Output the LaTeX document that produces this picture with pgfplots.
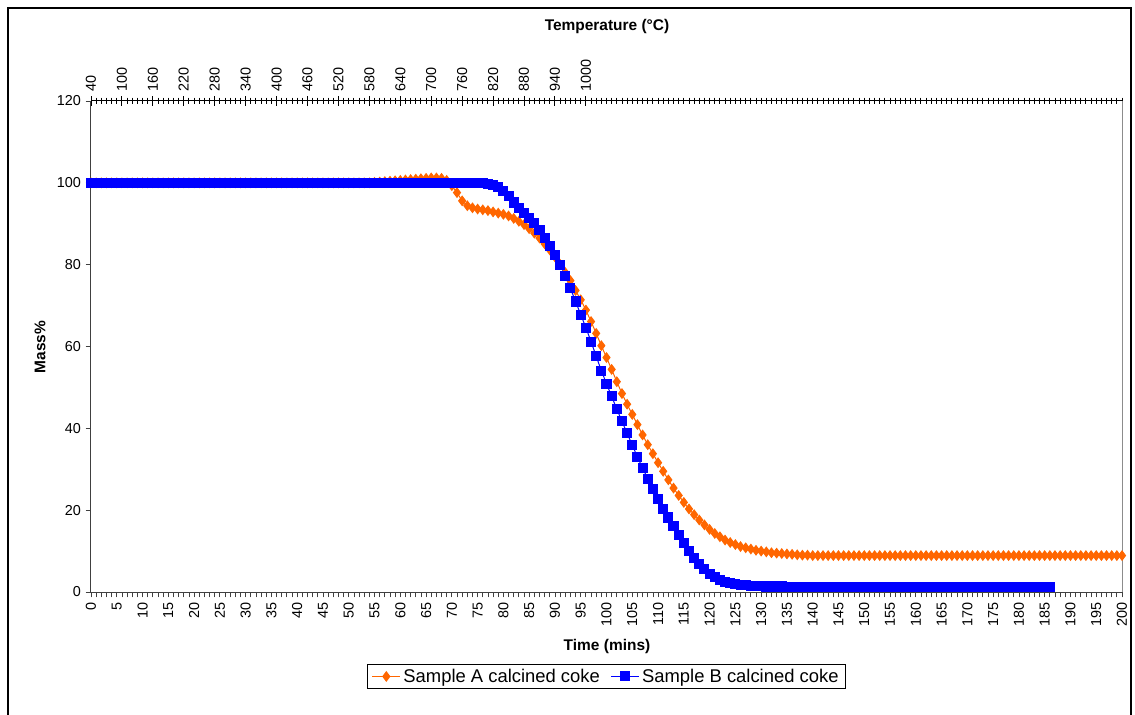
\documentclass[border=0pt]{standalone}
\usepackage{fontspec}
\setmainfont{Liberation Sans}
\usepackage{pgfplots}
\pgfplotsset{compat=1.18}
\definecolor{cA}{HTML}{FF6600}
\definecolor{cB}{HTML}{0000FF}
\begin{document}
\begin{tikzpicture}
\useasboundingbox (0,0) rectangle (851.25pt,535.5pt);
\draw[black, line width=1pt] (6pt,-20pt) -- (6pt,529.5pt) -- (848.25pt,529.5pt) -- (848.25pt,-20pt);
% top (temperature) axis
\begin{axis}[
  at={(68.25pt,91.5pt)}, anchor=south west,
  scale only axis, width=773.25pt, height=368.25pt,
  xmin=0, xmax=200, ymin=0, ymax=1,
  axis x line*=top, axis y line=none,
  axis line style={black, line width=0.75pt},
  xtick={0,6,...,96},
  xticklabels={40,100,160,220,280,340,400,460,520,580,640,700,760,820,880,940,1000},
  minor xtick={0,1,...,200},
  tick align=center,
  major tick length=7pt, minor tick length=5pt,
  tick style={black, line width=0.7pt},
  xticklabel style={rotate=90, anchor=west, font=\fontsize{10.8}{12}\selectfont},
  /pgf/number format/assume math mode=true,
]
\addplot[draw=none] coordinates {(0,0)};
\end{axis}
% main axis
\begin{axis}[
  at={(68.25pt,91.5pt)}, anchor=south west,
  scale only axis, width=773.25pt, height=368.25pt,
  xmin=0, xmax=200, ymin=0, ymax=120,
  axis x line*=bottom, axis y line*=left,
  axis line style={black!75, line width=0.75pt},
  xtick distance=5, minor x tick num=4,
  ytick={0,20,...,120},
  tick align=outside,
  major tick length=4pt, minor tick length=4pt,
  tick style={black!75, line width=0.6pt},
  xticklabel style={rotate=90, anchor=east, font=\fontsize{10.8}{12}\selectfont},
  yticklabel style={font=\fontsize{10.8}{12}\selectfont},
  /pgf/number format/assume math mode=true,
  clip=false,
  legend columns=2,
  legend style={at={(0.5,-0.172)}, anchor=center, draw=black, line width=0.75pt,
    font=\fontsize{13.8}{16}\selectfont, inner xsep=3pt, inner ysep=1.5pt,
    /tikz/every even column/.append style={column sep=6pt}},
  legend image code/.code={\draw[mark repeat=2,mark phase=2] plot coordinates {(0pt,0pt) (10.5pt,0pt) (21pt,0pt)};},
]
\draw[black!45, line width=0.75pt] (rel axis cs:1,0) -- (rel axis cs:1,1);
\addplot[cA, line width=0.75pt, mark=diamond*, mark size=3.5pt, mark options={solid, fill=cA, draw=cA}] coordinates {
(0,100)(1,100)(2,100)(3,100)(4,100)(5,100)(6,100)(7,100)(8,100)(9,100)
(10,100)(11,100)(12,100)(13,100)(14,100)(15,100)(16,100)(17,100)(18,100)(19,100)
(20,100)(21,100)(22,100)(23,100)(24,100)(25,100)(26,100)(27,100)(28,100)(29,100)
(30,100)(31,100)(32,100)(33,100)(34,100)(35,100)(36,100)(37,100)(38,100)(39,100)
(40,100)(41,100)(42,100)(43,100)(44,100)(45,100)(46,100)(47,100)(48,100)(49,100)
(50,100)(51,100)(52,100)(53,100)(54,100)(55,100.1)(56,100.2)(57,100.3)(58,100.4)(59,100.5)
(60,100.6)(61,100.7)(62,100.8)(63,100.9)(64,101.0)(65,101.1)(66,101.2)(67,101.2)(68,101.1)(69,100.6)
(70,99.3)(71,97.6)(72,95.6)(73,94.4)(74,93.9)(75,93.6)(76,93.4)(77,93.2)(78,92.9)(79,92.6)
(80,92.3)(81,91.9)(82,91.3)(83,90.6)(84,89.8)(85,88.8)(86,87.7)(87,86.5)(88,85.1)(89,83.6)
(90,81.9)(91,80.1)(92,78.1)(93,76.1)(94,73.7)(95,71.4)(96,68.9)(97,66.1)(98,63.2)(99,60.2)
(100,57.3)(101,54.4)(102,51.4)(103,48.5)(104,45.9)(105,43.4)(106,40.9)(107,38.4)(108,36.0)(109,33.8)
(110,31.6)(111,29.5)(112,27.4)(113,25.4)(114,23.6)(115,21.9)(116,20.3)(117,18.9)(118,17.6)(119,16.4)
(120,15.3)(121,14.3)(122,13.5)(123,12.7)(124,12.1)(125,11.6)(126,11.1)(127,10.8)(128,10.5)(129,10.2)
(130,10.0)(131,9.8)(132,9.6)(133,9.5)(134,9.4)(135,9.3)(136,9.2)(137,9.1)(138,9.0)(139,9.0)
(140,8.9)(141,8.9)(142,8.9)(143,8.9)(144,8.9)(145,8.9)(146,8.9)(147,8.9)(148,8.9)(149,8.9)
(150,8.9)(151,8.9)(152,8.9)(153,8.9)(154,8.9)(155,8.9)(156,8.9)(157,8.9)(158,8.9)(159,8.9)
(160,8.9)(161,8.9)(162,8.9)(163,8.9)(164,8.9)(165,8.9)(166,8.9)(167,8.9)(168,8.9)(169,8.9)
(170,8.9)(171,8.9)(172,8.9)(173,8.9)(174,8.9)(175,8.9)(176,8.9)(177,8.9)(178,8.9)(179,8.9)
(180,8.9)(181,8.9)(182,8.9)(183,8.9)(184,8.9)(185,8.9)(186,8.9)(187,8.9)(188,8.9)(189,8.9)
(190,8.9)(191,8.9)(192,8.9)(193,8.9)(194,8.9)(195,8.9)(196,8.9)(197,8.9)(198,8.9)(199,8.9)
(200,8.9)
};
\addlegendentry{Sample A calcined coke}
\addplot[cB, line width=0.75pt, mark=square*, mark size=3.4pt, mark options={solid, fill=cB, draw=cB}] coordinates {
(0,100)(1,100)(2,100)(3,100)(4,100)(5,100)(6,100)(7,100)(8,100)(9,100)
(10,100)(11,100)(12,100)(13,100)(14,100)(15,100)(16,100)(17,100)(18,100)(19,100)
(20,100)(21,100)(22,100)(23,100)(24,100)(25,100)(26,100)(27,100)(28,100)(29,100)
(30,100)(31,100)(32,100)(33,100)(34,100)(35,100)(36,100)(37,100)(38,100)(39,100)
(40,100)(41,100)(42,100)(43,100)(44,100)(45,100)(46,100)(47,100)(48,100)(49,100)
(50,100)(51,100)(52,100)(53,100)(54,100)(55,100)(56,100)(57,100)(58,100)(59,100)
(60,100)(61,100)(62,100)(63,100)(64,100)(65,100)(66,100)(67,100)(68,100)(69,100)
(70,100)(71,100)(72,100)(73,100)(74,100)(75,100)(76,99.9)(77,99.7)(78,99.4)(79,98.9)
(80,98.0)(81,96.7)(82,95.2)(83,93.8)(84,92.6)(85,91.4)(86,90.1)(87,88.4)(88,86.5)(89,84.5)
(90,82.4)(91,80.0)(92,77.3)(93,74.2)(94,71.0)(95,67.8)(96,64.6)(97,61.2)(98,57.6)(99,54.1)
(100,50.9)(101,47.8)(102,44.7)(103,41.7)(104,38.8)(105,35.9)(106,33.0)(107,30.3)(108,27.7)(109,25.2)
(110,22.7)(111,20.3)(112,18.2)(113,16.1)(114,14.0)(115,12.0)(116,10.1)(117,8.4)(118,6.9)(119,5.6)
(120,4.5)(121,3.6)(122,2.9)(123,2.4)(124,2.1)(125,1.9)(126,1.7)(127,1.6)(128,1.5)(129,1.4)
(130,1.4)(131,1.35)(132,1.35)(133,1.35)(134,1.35)(135,1.3)(136,1.3)(137,1.3)(138,1.3)(139,1.3)
(140,1.3)(141,1.3)(142,1.3)(143,1.3)(144,1.3)(145,1.3)(146,1.3)(147,1.3)(148,1.3)(149,1.3)
(150,1.3)(151,1.3)(152,1.3)(153,1.3)(154,1.3)(155,1.3)(156,1.3)(157,1.3)(158,1.3)(159,1.3)
(160,1.3)(161,1.3)(162,1.3)(163,1.3)(164,1.3)(165,1.3)(166,1.3)(167,1.3)(168,1.3)(169,1.3)
(170,1.3)(171,1.3)(172,1.3)(173,1.3)(174,1.3)(175,1.3)(176,1.3)(177,1.3)(178,1.3)(179,1.3)
(180,1.3)(181,1.3)(182,1.3)(183,1.3)(184,1.3)(185,1.3)(186,1.3)
};
\addlegendentry{Sample B calcined coke}
\end{axis}
\node[font=\fontsize{11.6}{14}\selectfont\bfseries] at (455.25pt,515.25pt) {Temperature (°C)};
\node[font=\fontsize{11.6}{14}\selectfont\bfseries] at (455.25pt,50.25pt) {Time (mins)};
\node[font=\fontsize{11.6}{14}\selectfont\bfseries, rotate=90] at (30pt,275.25pt) {Mass\%};
\end{tikzpicture}
\end{document}
